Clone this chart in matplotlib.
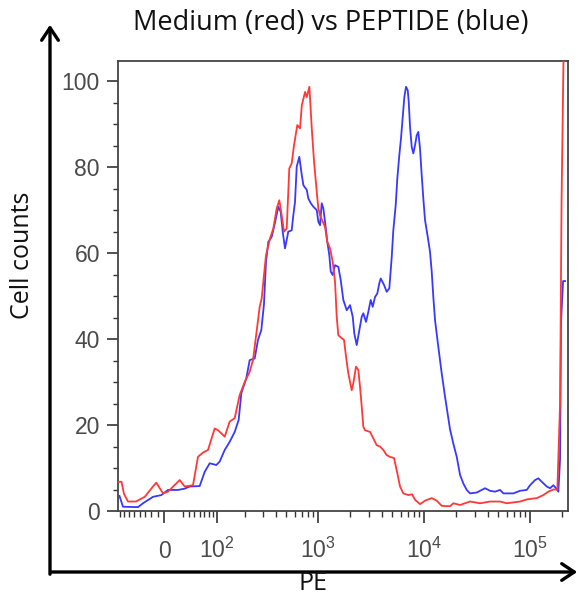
import numpy as np
import matplotlib
matplotlib.use("Agg")
import matplotlib.pyplot as plt
from matplotlib.patches import FancyArrowPatch
from matplotlib.ticker import FixedLocator, MultipleLocator, NullFormatter

plt.rcParams['mathtext.fontset'] = 'custom'
plt.rcParams['mathtext.rm'] = 'Liberation Sans'
plt.rcParams['mathtext.it'] = 'Liberation Sans'

TITLE = "Medium (red) vs PEPTIDE (blue)"
XLABEL = "PE"
YLABEL = "Cell counts"

# Medium (red) histogram: PE value, cell count
red_pe = [-82, -75.9, -70.4, -62.0, -46.4, -31.1, -17.6, -12.4, -2.0, 5.7, 24.2, 32.5, 47.2,
          56.7, 67.0, 78.0, 94.2, 102.9, 122.3, 138.4, 156.1, 175.7, 197.4, 221.3, 238.6,
          247.9, 277.5, 290.2, 305.4, 319.4, 349, 375.5, 404.8, 428.6, 451.8, 475.3, 504.3,
          533.9, 562.7, 591.8, 636.1, 675, 702, 754, 782, 828, 872, 917, 972, 1006, 1044,
          1107, 1164, 1223, 1298, 1376, 1447, 1501, 1554, 1673, 1759, 1838, 1931, 2079,
          2153, 2283, 2400, 2490, 2584, 2676, 2776, 3095, 3325, 3579, 3845, 4130, 4447,
          4778, 5212, 5600, 5937, 6378, 7112, 7705, 8227, 9168, 10220, 11818, 13180, 14690,
          17590, 18890, 21860, 27160, 33760, 41940, 52120, 60290, 80480, 93090, 115700,
          133500, 148800, 165900, 180900, 191900, 198200, 207000, 213900]
red_counts = [6.8, 6.8, 4.0, 2.2, 2.2, 3.3, 5.7, 6.6, 4.1, 4.5, 7.2, 5.7, 6.0,
              12.6, 13.6, 14.2, 19.2, 18.8, 17.3, 20.8, 21.6, 27.0, 30.0, 32.4, 35.1,
              38.2, 47.5, 49.5, 54.9, 59.5, 63.4, 65.7, 70.4, 72.3, 68.8, 65.0, 65.7,
              79.7, 80.9, 85.1, 89.8, 89.0, 94.4, 97.5, 96.3, 98.7, 89.0, 81.2, 74.3, 70.4, 68.8,
              67.3, 66.1, 62.6, 61.1, 58.0, 53.3, 45.2, 40.9, 40.2, 39.8, 35.9, 32.0, 28.1,
              29.7, 33.6, 32.8, 28.9, 24.3, 19.6, 18.8, 18.4, 16.9, 15.3, 15.0, 14.2, 13.0,
              12.6, 12.3, 8.8, 5.7, 4.1, 3.7, 3.9, 2.6, 1.6, 2.4, 3.0, 2.4, 1.2,
              1.1, 1.8, 1.4, 2.2, 1.8, 2.2, 2.2, 1.8, 2.2, 2.7, 3.0,
              3.7, 4.5, 5.0, 5.0, 25.0, 72.0, 106.0, 106.0]

# PEPTIDE (blue) histogram: PE value, cell count
blue_pe = [-80.5, -76.2, -72.6, -42.8, -34.0, -17.6, -4.6, 5.7, 21.4, 32.5, 41.2, 60.1, 70.6,
           81.9, 98.4, 107.6, 122.3, 138.4, 156.1, 171.6, 182.4, 204.8, 221.3, 247.9, 267.1,
           287.6, 305, 319.4, 336.1, 362.5, 391.5, 419.3, 442, 461.9, 485.9, 522.3, 562.7,
           582.8, 604.8, 627.8, 664.5, 702, 726.6, 782, 809.9, 853.4, 903, 972, 1006, 1044,
           1083, 1122, 1164, 1223, 1278, 1318, 1376, 1447, 1554, 1638, 1733, 1866, 2004,
           2125, 2200, 2318, 2453, 2584, 2676, 2836, 2981, 3141, 3281, 3449, 3626, 3788,
           3905, 4194, 4447, 4706, 4959, 5133, 5408, 5600, 5848, 6067, 6297, 6520, 6764,
           7019, 7174, 7379, 7656, 7927, 8227, 8533, 8836, 9168, 9512, 9849, 10220, 10836,
           11391, 11818, 12240, 12700, 13640, 14690, 15780, 17590, 18890, 20350, 21860,
           23490, 25280, 27160, 31420, 33760, 37640, 41940, 46760, 52120, 56000, 69580,
           80480, 93090, 100000, 111500, 119800, 128900, 143700, 154400, 165900, 176000,
           184900, 191900, 196100, 204800, 213900]
blue_counts = [3.5, 2.2, 1.0, 0.9, 1.8, 3.3, 3.7, 4.9, 4.9, 5.2, 5.7, 5.8, 9.1,
               11.1, 10.7, 11.5, 14.2, 16.1, 18.4, 21.2, 27.4, 30.9, 35.1, 35.5, 39.8,
               42.1, 48.0, 58.0, 62.6, 63.8, 67.3, 70.8, 69.6, 65.0, 61.1, 65.0, 65.3,
               68.8, 71.9, 80.1, 82.4, 78.1, 75.8, 74.7, 72.7, 71.6, 70.8, 70.0, 67.3, 66.5,
               71.6, 70.4, 67.3, 62.6, 59.5, 55.7, 54.9, 57.2, 56.8, 53.7, 49.1, 46.7, 47.9,
               45.2, 41.3, 38.6, 42.1, 45.2, 46.0, 44.0, 46.3, 49.1, 47.5, 49.8, 50.6, 53.0,
               54.1, 52.6, 51.0, 51.8, 59.1, 65.3, 71.2, 77.4, 82.8, 86.7, 91.7, 96.3, 98.7,
               97.9, 95.2, 89.4, 84.7, 83.2, 85.1, 87.4, 88.2, 84.3, 78.1, 72.7, 67.7, 63.8,
               60.3, 55.7, 49.8, 44.4, 38.2, 32.0, 26.6, 19.0, 15.7, 12.6, 8.4,
               6.4, 4.9, 4.1, 4.3, 4.7, 5.3, 4.7, 4.5, 4.9, 4.1, 4.1,
               4.7, 4.9, 6.0, 7.2, 7.6, 6.8, 5.7, 5.3, 6.0, 5.3,
               4.5, 12.0, 44.0, 53.5, 53.5]

x_major = [0, 100, 1000, 10000, 100000]
x_major_labels = ["0", r"$\mathregular{10^2}$", r"$\mathregular{10^3}$",
                  r"$\mathregular{10^4}$", r"$\mathregular{10^5}$"]
x_minor = ([-80, -70, -60, -50, -40, -30, -20, -10]
           + [30, 40, 50, 60, 70, 80, 90]
           + [200, 300, 400, 500, 600, 700, 800, 900]
           + [2000, 3000, 4000, 5000, 6000, 7000, 8000, 9000]
           + [20000, 30000, 40000, 50000, 60000, 70000, 80000, 90000]
           + [200000])
y_major = [0, 20, 40, 60, 80, 100]

W = 71.0
def fwd(x):
    return np.arcsinh(np.asarray(x, dtype=float) / W)
def inv(y):
    return W * np.sinh(np.asarray(y, dtype=float))

fig = plt.figure(figsize=(5.82, 5.97), dpi=100)
ax = fig.add_axes([118/582, 86/597, 450/582, 450/597])
ax.set_xscale('function', functions=(fwd, inv))

ax.plot(red_pe, red_counts, color='#ff3838', lw=1.3, zorder=3)
ax.plot(blue_pe, blue_counts, color='#3838ff', lw=1.3, zorder=2)

ax.set_xlim(-84, 228000)
ax.set_ylim(0, 104.7)

for s in ax.spines.values():
    s.set_color('#444444')
    s.set_linewidth(1.3)

ax.xaxis.set_major_locator(FixedLocator(x_major))
ax.xaxis.set_minor_locator(FixedLocator(x_minor))
ax.xaxis.set_major_formatter(NullFormatter())
ax.xaxis.set_minor_formatter(NullFormatter())
ax.tick_params(axis='x', which='major', length=8.5, width=1.2, color='#333333', direction='out')
ax.tick_params(axis='x', which='minor', length=4.5, width=1.0, color='#333333', direction='out')
for v, lab in zip(x_major, x_major_labels):
    ax.text(v, -0.1044, lab, transform=ax.get_xaxis_transform(), ha='center', va='baseline',
            fontsize=16.5, color='#4a4a4a', family='Liberation Sans')

ax.yaxis.set_major_locator(FixedLocator(y_major))
ax.yaxis.set_minor_locator(MultipleLocator(5))
ax.tick_params(axis='y', which='major', length=8, width=1.2, color='#333333', pad=5,
               labelsize=16.5, labelcolor='#4a4a4a')
ax.tick_params(axis='y', which='minor', length=3.6, width=1.0, color='#333333')
for lab in ax.get_yticklabels():
    lab.set_family('Liberation Sans')

# outer arrows
ya = FancyArrowPatch((50/582, (597-577)/597), (50/582, (597-22)/597), transform=fig.transFigure,
                     arrowstyle='->,head_length=0.45,head_width=0.3', mutation_scale=20,
                     lw=2.4, color='black')
xa = FancyArrowPatch((48/582, (597-572)/597), (580/582, (597-572)/597), transform=fig.transFigure,
                     arrowstyle='->,head_length=0.45,head_width=0.3', mutation_scale=20,
                     lw=2.4, color='black')
fig.add_artist(ya)
fig.add_artist(xa)

fig.text(331/582, (597-30)/597, TITLE, ha='center', va='baseline', fontsize=19.5,
         family='Open Sans', color='#111111')
fig.text(313/582, (597-590)/597, XLABEL, ha='center', va='baseline', fontsize=18,
         family='Open Sans', color='#111111')
fig.text(23/582, (597-255)/597, YLABEL, ha='center', va='center', rotation=90, fontsize=18,
         family='Open Sans', color='#111111')

fig.savefig('out.png', dpi=100)
